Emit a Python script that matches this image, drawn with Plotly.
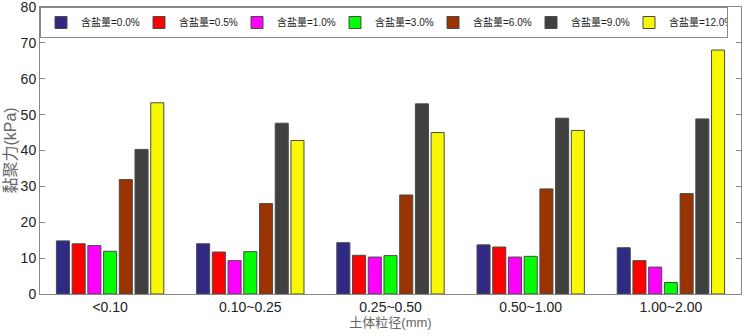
import plotly.graph_objects as go

categories = ["<0.10", "0.10~0.25", "0.25~0.50", "0.50~1.00", "1.00~2.00"]
series_names = ["含盐量=0.0%", "含盐量=0.5%", "含盐量=1.0%", "含盐量=3.0%",
                "含盐量=6.0%", "含盐量=9.0%", "含盐量=12.0%"]
salt_0_0 = [14.8, 14.0, 14.3, 13.7, 12.9]
salt_0_5 = [14.0, 11.7, 10.8, 13.1, 9.3]
salt_1_0 = [13.5, 9.3, 10.3, 10.3, 7.5]
salt_3_0 = [11.9, 11.8, 10.7, 10.5, 3.2]
salt_6_0 = [31.9, 25.2, 27.6, 29.3, 28.0]
salt_9_0 = [40.3, 47.6, 53.0, 49.0, 48.8]
salt_12_0 = [53.3, 42.8, 45.0, 45.6, 68.0]
series_values = [salt_0_0, salt_0_5, salt_1_0, salt_3_0, salt_6_0, salt_9_0, salt_12_0]
colors = ["#312A85", "#FF0000", "#FF00FF", "#00FF00", "#993300", "#404040", "#F8F800"]
y_ticks = [0, 10, 20, 30, 40, 50, 60, 70, 80]

FONT = "Liberation Sans, Arial, Noto Sans CJK SC, sans-serif"

fig = go.Figure()
for name, vals, col in zip(series_names, series_values, colors):
    fig.add_trace(go.Bar(
        x=categories, y=vals, name=name,
        marker=dict(color=col, line=dict(color="#4a4a4a", width=1)),
    ))

fig.update_layout(
    width=748, height=336,
    margin=dict(l=40, r=7, t=7, b=42, autoexpand=False),
    paper_bgcolor="white", plot_bgcolor="white",
    barmode="group", bargap=0.215, bargroupgap=0.17,
    font=dict(family=FONT, color="black", size=14),
    legend=dict(
        orientation="h", x=0.0, y=1.0, xanchor="left", yanchor="top",
        bgcolor="white", bordercolor="#888888", borderwidth=1,
        font=dict(size=10, family=FONT, color="#222"),
        entrywidth=53, itemwidth=30, tracegroupgap=0,
    ),
    xaxis=dict(
        automargin=False,
        showline=True, linecolor="#888888", linewidth=1, mirror=True,
        ticks="", tickfont=dict(size=14, color="#222"),
        title=dict(text="土体粒径(mm)", font=dict(size=13, color="#666"), standoff=2),
    ),
    yaxis=dict(
        automargin=False,
        range=[0, 80], tickvals=y_ticks, ticklabeloverflow="allow",
        showline=True, linecolor="#888888", linewidth=1, mirror="ticks",
        ticks="inside", ticklen=5, tickcolor="#888888",
        showgrid=False, zeroline=False,
        tickfont=dict(size=14, color="#222"),
        title=dict(text="黏聚力(kPa)", font=dict(size=16, color="#666"), standoff=0),
    ),
)

fig.write_html("out.html", config={"displayModeBar": False},
               post_script="document.body.style.margin='0';")
